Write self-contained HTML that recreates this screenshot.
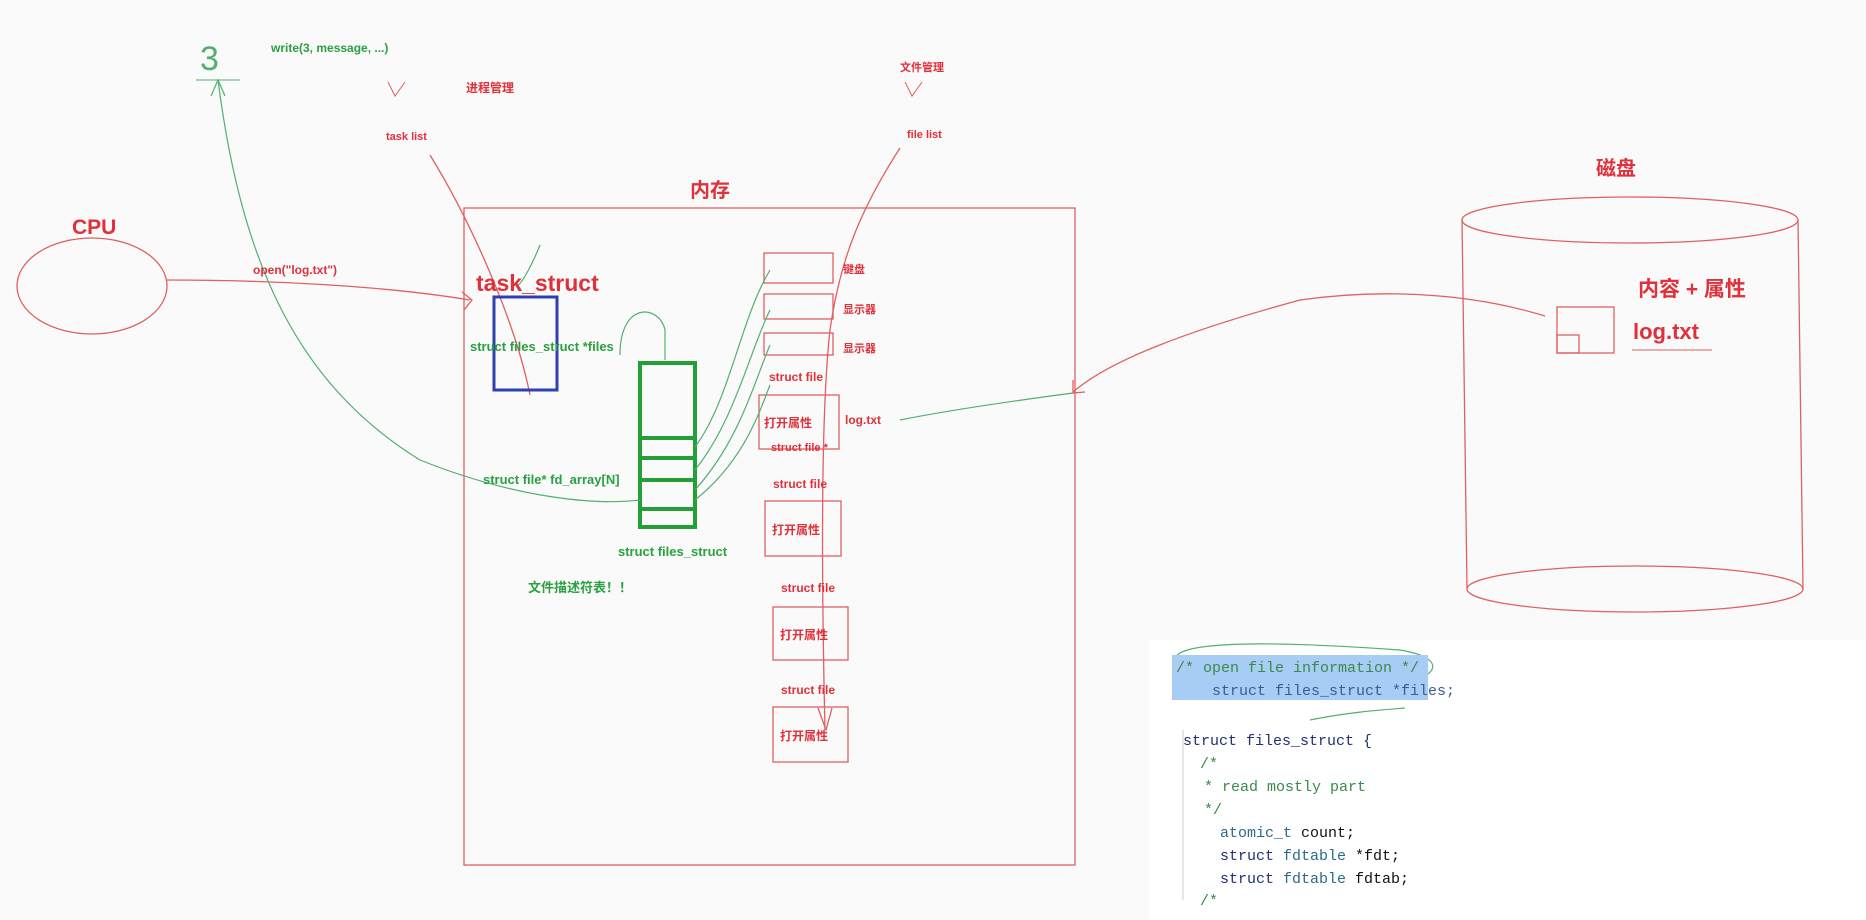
<!DOCTYPE html>
<html><head><meta charset="utf-8"><style>
html,body{margin:0;padding:0;background:#fafafa;}
svg{display:block}
.r{fill:#e0303a;font-family:"Liberation Sans","Noto Sans CJK SC",sans-serif;font-weight:bold}
.g{fill:#2aa040;font-family:"Liberation Sans","Noto Sans CJK SC",sans-serif;font-weight:bold}
.c{font-family:"Liberation Mono","DejaVu Sans Mono",monospace;font-size:15px}
</style></head><body>
<svg width="1866" height="920" viewBox="0 0 1866 920" xmlns="http://www.w3.org/2000/svg">
<rect width="1866" height="920" fill="#fafafa"/>
<rect x="1150" y="640" width="716" height="280" fill="#fff"/>
<g fill="none" stroke="#e06060" stroke-width="1.3">
<!-- memory -->
<rect x="464" y="208" width="611" height="657"/>
<!-- CPU -->
<ellipse cx="92" cy="286" rx="75" ry="48"/>
<path d="M167 280 C260 280 380 285 470 300"/>
<path d="M462 292 L472 300 L464 310"/>
<!-- disk -->
<ellipse cx="1630" cy="220" rx="168" ry="23"/>
<ellipse cx="1635" cy="589" rx="168" ry="23"/>
<line x1="1462" y1="220" x2="1467" y2="589"/>
<line x1="1798" y1="220" x2="1803" y2="589"/>
<rect x="1557" y="307" width="57" height="46"/>
<rect x="1557" y="335" width="22" height="18"/>
<path d="M1545 316 C1460 290 1370 290 1300 300 C1190 330 1110 360 1073 392"/>
<path d="M1073 380 L1073 393 L1085 392"/>
<!-- small boxes -->
<rect x="764" y="253" width="69" height="30"/>
<rect x="764" y="294" width="69" height="25"/>
<rect x="764" y="333" width="69" height="22"/>
<rect x="759" y="395" width="80" height="54"/>
<rect x="765" y="501" width="76" height="55"/>
<rect x="773" y="607" width="75" height="53"/>
<rect x="773" y="707" width="75" height="55"/>
<!-- task list line -->
<path d="M430 155 C470 220 515 320 530 395"/>
<!-- file list line -->
<path d="M900 148 C860 210 840 260 830 330 C820 420 822 600 825 730"/>
<path d="M818 708 L826 730 L832 708"/>
</g>
<!-- blue -->
<rect x="494" y="297" width="63" height="93" fill="none" stroke="#3040b0" stroke-width="3"/>
<!-- green array -->
<g fill="none" stroke="#22a035" stroke-width="4">
<rect x="640" y="363" width="55" height="164"/>
<line x1="640" y1="438" x2="695" y2="438"/><line x1="640" y1="458" x2="695" y2="458"/>
<line x1="640" y1="480" x2="695" y2="480"/><line x1="640" y1="509" x2="695" y2="509"/>
</g>
<g fill="none" stroke="#50b070" stroke-width="1.2">
<path d="M218 80 C240 250 290 380 420 460 C520 500 600 505 640 500"/>
<path d="M211 96 L218 80 L225 96"/>
<path d="M695 447 C730 400 740 320 770 270"/>
<path d="M695 470 C735 420 750 350 770 310"/>
<path d="M695 490 C740 440 755 380 770 345"/>
<path d="M695 500 C745 460 760 410 770 385"/>
<path d="M620 355 C620 300 660 305 665 330 L665 360"/>
<path d="M900 420 C950 410 1020 400 1073 393"/>
<path d="M540 245 C530 270 520 285 518 285"/>
<path d="M1180 668 C1150 640 1260 640 1400 650 C1460 660 1440 690 1320 695 C1180 700 1160 690 1180 668"/>
<path d="M1310 720 C1350 712 1380 710 1405 708"/>
</g>
<!-- top texts -->
<text x="200" y="70" font-family="Liberation Sans" font-size="34" fill="#50b070">3</text>
<line x1="196" y1="80" x2="240" y2="80" stroke="#50b070"/>
<text class="g" x="271" y="52" font-size="12">write(3, message, ...)</text>
<path d="M388 82 L395 96 L405 82" fill="none" stroke="#e06060"/>
<text class="r" x="466" y="92" font-size="12">进程管理</text>
<text class="r" x="386" y="140" font-size="11">task list</text>
<text class="r" x="900" y="71" font-size="11">文件管理</text>
<path d="M905 82 L912 96 L922 82" fill="none" stroke="#e06060"/>
<text class="r" x="907" y="138" font-size="11">file list</text>
<text class="r" x="690" y="197" font-size="20">内存</text>
<text class="r" x="72" y="234" font-size="21">CPU</text>
<text class="r" x="253" y="274" font-size="12">open("log.txt")</text>
<text class="r" x="1596" y="175" font-size="20">磁盘</text>
<text class="r" x="1638" y="296" font-size="21">内容 + 属性</text>
<text class="r" x="1633" y="339" font-size="22">log.txt</text>
<line x1="1632" y1="350" x2="1712" y2="350" stroke="#e06060"/>
<text class="r" x="476" y="291" font-size="23">task_struct</text>
<text class="g" x="470" y="351" font-size="13">struct files_struct *files</text>
<text class="g" x="483" y="484" font-size="13">struct file* fd_array[N]</text>
<text class="g" x="618" y="556" font-size="13">struct files_struct</text>
<text class="g" x="528" y="592" font-size="13">文件描述符表！！</text>
<text class="r" x="843" y="273" font-size="11">键盘</text>
<text class="r" x="843" y="313" font-size="11">显示器</text>
<text class="r" x="843" y="352" font-size="11">显示器</text>
<text class="r" x="769" y="381" font-size="12">struct file</text>
<text class="r" x="764" y="427" font-size="12">打开属性</text>
<text class="r" x="845" y="424" font-size="12">log.txt</text>
<text class="r" x="771" y="451" font-size="11">struct file *</text>
<text class="r" x="773" y="488" font-size="12">struct file</text>
<text class="r" x="772" y="534" font-size="12">打开属性</text>
<text class="r" x="781" y="592" font-size="12">struct file</text>
<text class="r" x="780" y="639" font-size="12">打开属性</text>
<text class="r" x="781" y="694" font-size="12">struct file</text>
<text class="r" x="780" y="740" font-size="12">打开属性</text>
<!-- code -->
<rect x="1172" y="655" width="256" height="45" fill="#a8cdf5"/>
<text class="c" x="1176" y="672" fill="#3a8a4a">/* open file information */</text>
<text class="c" x="1212" y="695" fill="#3a5a9a">struct files_struct *files;</text>
<line x1="1183" y1="730" x2="1183" y2="900" stroke="#ccc"/>
<text class="c" x="1183" y="745" fill="#203070">struct files_struct {</text>
<text class="c" x="1200" y="768" fill="#3a8a4a">/*</text>
<text class="c" x="1204" y="791" fill="#3a8a4a">* read mostly part</text>
<text class="c" x="1204" y="814" fill="#3a8a4a">*/</text>
<text class="c" x="1220" y="837" fill="#2a6a8a">atomic_t <tspan fill="#111">count;</tspan></text>
<text class="c" x="1220" y="860" fill="#203070">struct <tspan fill="#2a6a8a">fdtable</tspan> <tspan fill="#111">*fdt;</tspan></text>
<text class="c" x="1220" y="883" fill="#203070">struct <tspan fill="#2a6a8a">fdtable</tspan> <tspan fill="#111">fdtab;</tspan></text>
<text class="c" x="1200" y="905" fill="#3a8a4a">/*</text>
</svg>
</body></html>
